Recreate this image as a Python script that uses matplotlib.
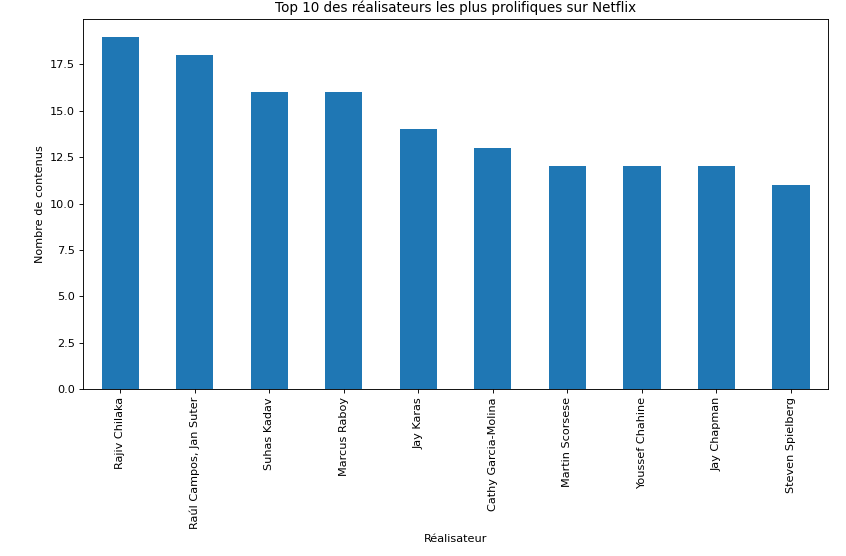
import matplotlib
matplotlib.use("Agg")
import matplotlib.pyplot as plt
import pandas as pd

directors = ["Rajiv Chilaka", "Raúl Campos, Jan Suter", "Suhas Kadav", "Marcus Raboy",
             "Jay Karas", "Cathy Garcia-Molina", "Martin Scorsese", "Youssef Chahine",
             "Jay Chapman", "Steven Spielberg"]
counts = [19, 18, 16, 16, 14, 13, 12, 12, 12, 11]

s = pd.Series(counts, index=directors)

# original was a larger figure shrunk down, so render at a lower dpi
dpi = 81.3
fig = plt.figure(figsize=(846 / dpi, 556 / dpi), dpi=dpi)
ax = fig.add_axes([0.098, 0.300, 0.881, 0.666])
s.plot(kind="bar", ax=ax, color="#1f77b4")
ax.set_title("Top 10 des réalisateurs les plus prolifiques sur Netflix")
ax.set_xlabel("Réalisateur")
ax.set_ylabel("Nombre de contenus")

fig.savefig("out.png", dpi=dpi)
